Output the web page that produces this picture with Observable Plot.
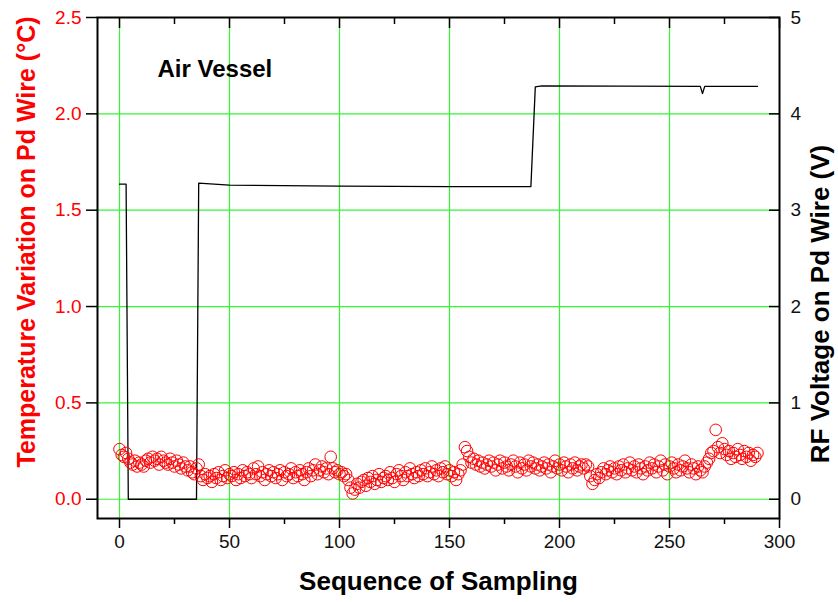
<!DOCTYPE html>
<html><head><meta charset="utf-8">
<script src="https://cdn.jsdelivr.net/npm/d3@7"></script>
<script src="https://cdn.jsdelivr.net/npm/@observablehq/plot@0.6"></script>
<style>body{margin:0;background:#fff;} #chart{width:838px;height:602px;}</style>
</head><body><div id="chart"></div>
<script>
// Temperature variation on Pd wire (°C), one value per sample 0..290
const tempValues = [
  0.26,0.23,0.22,0.24,0.21,0.19,0.18,0.20,0.17,0.19,0.18,
  0.17,0.20,0.21,0.19,0.22,0.20,0.21,0.18,0.22,0.20,
  0.19,0.18,0.21,0.19,0.17,0.20,0.18,0.16,0.19,0.17,
  0.15,0.17,0.14,0.13,0.16,0.18,0.12,0.10,0.13,0.11,
  0.12,0.09,0.13,0.11,0.14,0.10,0.12,0.15,0.11,0.13,
  0.12,0.14,0.10,0.13,0.11,0.15,0.12,0.14,0.13,0.11,
  0.16,0.13,0.17,0.12,0.14,0.10,0.13,0.15,0.12,0.14,
  0.11,0.13,0.15,0.10,0.14,0.12,0.13,0.16,0.11,0.14,
  0.12,0.15,0.13,0.10,0.14,0.16,0.12,0.15,0.18,0.13,
  0.15,0.17,0.14,0.16,0.13,0.22,0.16,0.14,0.15,0.13,
  0.14,0.12,0.13,0.10,0.06,0.03,0.05,0.08,0.06,0.09,
  0.10,0.07,0.11,0.09,0.12,0.08,0.10,0.13,0.09,0.11,
  0.12,0.10,0.14,0.11,0.09,0.13,0.15,0.12,0.10,0.14,
  0.12,0.16,0.13,0.11,0.14,0.12,0.15,0.13,0.16,0.12,
  0.14,0.17,0.13,0.15,0.12,0.16,0.14,0.17,0.13,0.15,
  0.12,0.14,0.10,0.13,0.15,0.18,0.27,0.25,0.22,0.19,
  0.21,0.18,0.20,0.17,0.19,0.16,0.18,0.20,0.17,0.19,
  0.15,0.18,0.20,0.16,0.19,0.17,0.15,0.18,0.20,0.17,
  0.14,0.19,0.16,0.18,0.15,0.20,0.17,0.19,0.16,0.18,
  0.15,0.17,0.19,0.16,0.18,0.14,0.17,0.20,0.16,0.18,
  0.15,0.19,0.17,0.14,0.18,0.16,0.19,0.15,0.17,0.18,
  0.16,0.18,0.17,0.12,0.08,0.10,0.13,0.11,0.14,0.16,
  0.13,0.15,0.17,0.14,0.16,0.13,0.17,0.15,0.18,0.14,
  0.16,0.19,0.15,0.17,0.14,0.18,0.16,0.13,0.17,0.15,
  0.19,0.16,0.18,0.14,0.17,0.20,0.15,0.18,0.13,0.17,
  0.19,0.16,0.14,0.18,0.15,0.17,0.20,0.16,0.14,0.18,
  0.16,0.13,0.17,0.15,0.14,0.17,0.19,0.21,0.24,0.25,
  0.36,0.27,0.24,0.29,0.26,0.23,0.25,0.21,0.24,0.22,
  0.26,0.23,0.21,0.25,0.22,0.24,0.20,0.23,0.22,0.24
];
// RF voltage on Pd wire (V)
const rfSample  = [0,   3,   4, 35, 36,  50,  100, 150,  187,  189, 192, 264,  265, 266,  290];
const rfVoltage = [3.27,3.27,0, 0,  3.28,3.26,3.25,3.245,3.245,4.28,4.29,4.285,4.21,4.285,4.285];

const xTicks = [0, 50, 100, 150, 200, 250, 300];
const xMinor = [25, 75, 125, 175, 225, 275];
const tempTicks = [0, 0.5, 1.0, 1.5, 2.0, 2.5];
const rfTicks = [0, 1, 2, 3, 4, 5];
const title = "Air Vessel";
const xLabel = "Sequence of Sampling";
const yLabel = "Temperature Variation on Pd Wire (°C)";
const y2Label = "RF Voltage on Pd Wire (V)";

const tempData = tempValues.map((t, i) => ({sample: i, temp: t}));
const rfData = rfSample.map((s, i) => ({sample: s, v: rfVoltage[i]}));
const RATIO = 2; // right axis units per left axis unit

const font = "Liberation Sans, Arial, sans-serif";
const green = "#33f533";

const chart = Plot.plot({
  width: 838,
  height: 602,
  marginTop: 17,
  marginBottom: 84,
  marginLeft: 97,
  marginRight: 59,
  style: {fontFamily: font, fontSize: "19px", background: "#fff"},
  x: {domain: [-10, 300], axis: null},
  y: {domain: [-0.1, 2.5], axis: null},
  marks: [
    Plot.gridX(xTicks.slice(0, -1), {stroke: green, strokeOpacity: 1, strokeWidth: 1.2}),
    Plot.gridY(tempTicks.slice(0, -1), {stroke: green, strokeOpacity: 1, strokeWidth: 1.2}),
    // bottom axis
    Plot.axisX(xTicks, {anchor: "bottom", tickSize: 10, tickPadding: 6, fontSize: 19, fill: "#111", stroke: "black", strokeWidth: 1.5, label: null}),
    Plot.axisX(xMinor, {anchor: "bottom", tickSize: 6, tickFormat: () => "", stroke: "black", strokeWidth: 1.5, label: null}),
    // top axis (inward ticks)
    Plot.axisX(xTicks, {anchor: "top", tickSize: -10, tickFormat: () => "", stroke: "black", strokeWidth: 1.5, label: null}),
    Plot.axisX(xMinor, {anchor: "top", tickSize: -6, tickFormat: () => "", stroke: "black", strokeWidth: 1.5, label: null}),
    // left axis
    Plot.axisY(tempTicks, {anchor: "left", tickSize: 11, tickPadding: 5, fontSize: 19, fill: "#ff0000", stroke: "black", strokeWidth: 1.5, tickFormat: d3.format(".1f"), label: null}),
    // right axis (inward ticks)
    Plot.axisY(rfTicks.map(v => v / RATIO), {anchor: "right", tickSize: -11, tickFormat: () => "", stroke: "black", strokeWidth: 1.5, label: null}),
    Plot.axisY(rfTicks.map(v => v / RATIO), {anchor: "right", tickSize: 0, tickPadding: 11, fontSize: 19, fill: "#111", tickFormat: d => String(Math.round(d * RATIO)), label: null}),
    // data
    Plot.line(rfData, {x: "sample", y: d => d.v / RATIO, stroke: "black", strokeWidth: 1.3}),
    Plot.dot(tempData, {x: "sample", y: "temp", r: 5.8, stroke: "#ff0000", fill: "none", strokeWidth: 1}),
    Plot.frame({stroke: "black", strokeWidth: 2}),
    // texts
    Plot.text([title], {frameAnchor: "top-left", dx: 60, dy: 52, textAnchor: "start", lineAnchor: "middle", fontSize: 24, fontWeight: "bold", fill: "black"}),
    Plot.text([xLabel], {frameAnchor: "bottom", dy: 63, textAnchor: "middle", lineAnchor: "middle", fontSize: 26, fontWeight: "bold", fill: "black"}),
    Plot.text([yLabel], {frameAnchor: "left", dx: -71, dy: -26, rotate: -90, textAnchor: "middle", lineAnchor: "middle", fontSize: 25, fontWeight: "bold", fill: "#ff0000"}),
    Plot.text([y2Label], {frameAnchor: "right", dx: 41, dy: 36, rotate: -90, textAnchor: "middle", lineAnchor: "middle", fontSize: 26, fontWeight: "bold", fill: "black"})
  ]
});
document.getElementById("chart").appendChild(chart);
</script>
</body></html>
